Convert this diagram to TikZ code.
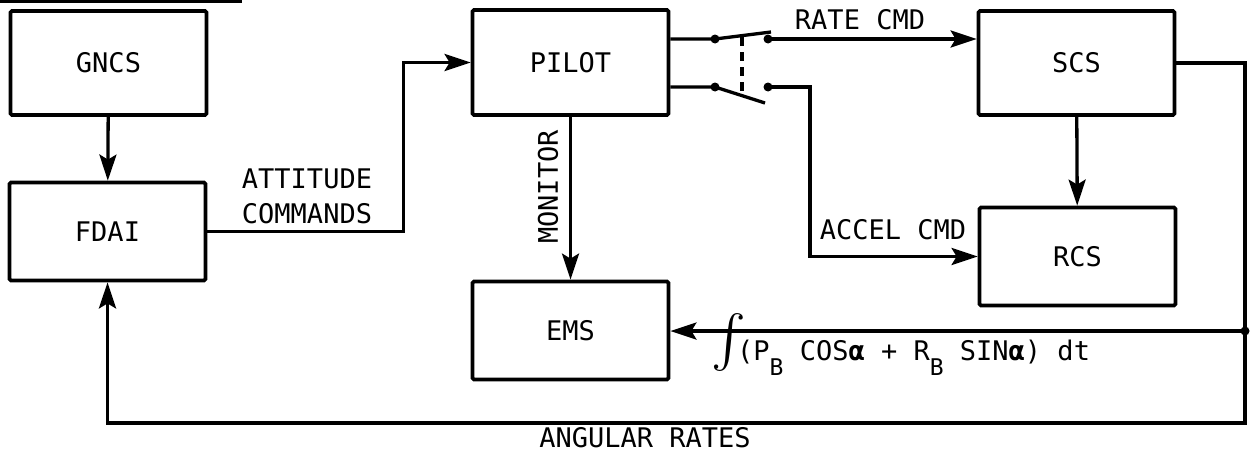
\documentclass[tikz,border=0pt]{standalone}
\usepackage{fontspec}
\usepackage{graphicx}
\setmainfont{DejaVu Sans Mono}
\usetikzlibrary{arrows.meta}
\newcommand{\lowsub}[1]{\raisebox{-15pt}{\fontsize{23}{23}\selectfont #1}}

\begin{document}
\begin{tikzpicture}[x=1pt, y=-1pt, >={Stealth[length=26pt,width=17pt,inset=5pt]},
  box/.style={draw, line width=3.8pt, rounded corners=1.5pt, minimum width=196pt,
    minimum height=98pt, inner sep=0pt, font=\fontsize{27}{30}\selectfont},
  wire/.style={line width=3.3pt},
  lbl/.style={font=\fontsize{27}{35}\selectfont, inner sep=0pt},
  contact/.style={circle, fill, inner sep=0pt, minimum size=9pt}]
  \useasboundingbox (0,0) rectangle (1253,461);
  \draw[line width=4pt] (0,1) -- (242,1);
  % blocks
  \node[box, minimum height=104pt] (gncs)  at (108.5,63)  {GNCS};
  \node[box] (fdai)  at (107.5,231.5) {FDAI};
  \node[box, minimum height=105pt] (pilot) at (570.5,62.5) {PILOT};
  \node[box] (ems)   at (570.5,330.5) {EMS};
  \node[box, minimum height=104pt] (scs)   at (1076.5,63) {SCS};
  \node[box] (rcs)   at (1077.5,256.5) {RCS};
  % forward path
  \draw[wire,->] (gncs) -- (fdai);
  \draw[wire,->] (fdai.east) -- ++(196,0) |- (pilot.west);
  \node[lbl, align=center] at (307,196) {ATTITUDE\\COMMANDS};
  \draw[wire,->] (pilot) -- (ems);
  \node[lbl, rotate=90] at (548,187) {MONITOR};
  % switch
  \coordinate (s1a) at (715,39);
  \coordinate (s1b) at (768,39);
  \coordinate (s2a) at (715,87);
  \coordinate (s2b) at (768,87);
  \draw[wire] (pilot.east |- s1a) -- (s1a) -- (771,32);
  \draw[wire] (pilot.east |- s2a) -- (s2a) -- (765,103);
  \draw[wire, dash pattern=on 9pt off 6pt] (742,37) -- (742,95);
  \foreach \c in {s1a,s1b,s2a,s2b} \node[contact] at (\c) {};
  \draw[wire,->] (s1b) -- (s1b -| scs.west);
  \node[lbl] at (860,20) {RATE CMD};
  \draw[wire,->] (s2b) -- (810,87) |- (rcs.west);
  \node[lbl] at (893,230) {ACCEL CMD};
  \draw[wire,->] (scs) -- (rcs);
  % feedback
  \coordinate (corner) at (1245,423);
  \coordinate (tap) at (1245,331);
  \draw[wire,->] (scs.east) -| (corner) -| (fdai.south);
  \draw[wire,->] (tap) -- (tap -| ems.east);
  \node[contact] at (tap) {};
  \node[inner sep=0pt, anchor=north west] (intg) at (711,313) {\resizebox*{!}{58pt}{$\int$}};
  \node[lbl, anchor=base west] at (737,360)
    {(P\lowsub{B} COS\textbf{α} + R\lowsub{B} SIN\textbf{α}) dt};
  \node[lbl] at (645,438) {ANGULAR RATES};
\end{tikzpicture}
\end{document}
